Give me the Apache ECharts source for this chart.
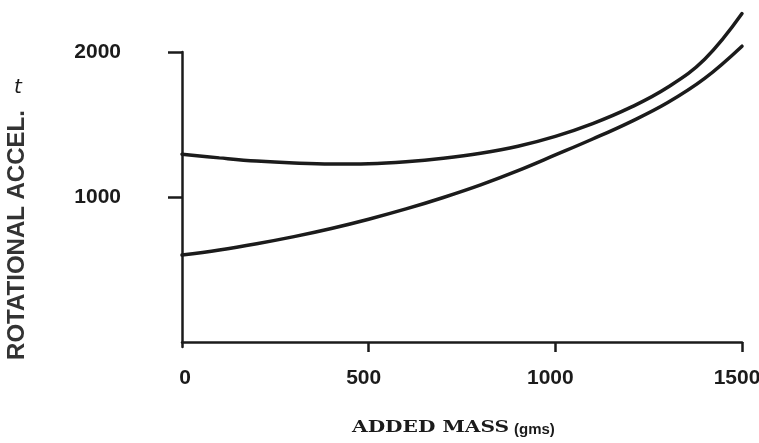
<!DOCTYPE html>
<html>
<head>
<meta charset="utf-8">
<script src="https://cdn.jsdelivr.net/npm/echarts@6/dist/echarts.min.js"></script>
<style>
 html, body { margin: 0; padding: 0; background: #fff; }
 #chart { width: 759px; height: 443px; }
</style>
</head>
<body>
<div id="chart"></div>
<script>
// added mass (gms)
const mass = [0, 100, 200, 300, 400, 500, 600, 700, 800, 900, 1000, 1100, 1200, 1300, 1400, 1500];
// upper and lower curves
const upperAccel = [1295, 1270, 1248, 1234, 1227, 1230, 1244, 1268, 1302, 1350, 1418, 1506, 1616, 1755, 1950, 2265];
const lowerAccel = [600, 635, 678, 727, 783, 847, 918, 997, 1084, 1182, 1290, 1400, 1517, 1650, 1818, 2040];

const xTicks = [500, 1000, 1500];
const xLabels = [0, 500, 1000, 1500];
const yTicks = [1000, 2000];

const ink = '#1b1b1b';
const sansBold = { fontFamily: 'Liberation Sans', fontWeight: 'bold', color: ink };

const chart = echarts.init(document.getElementById('chart'), null, { renderer: 'canvas' });

const toPairs = (ys) => mass.map((m, i) => [m, ys[i]]);

const lineSeries = (data) => ({
 type: 'line',
 smooth: 0.4,
 symbol: 'none',
 silent: true,
 clip: false,
 lineStyle: { color: ink, width: 3.5, cap: 'round' },
 data: data,
});

chart.setOption({
 backgroundColor: '#ffffff',
 animation: false,
 grid: { left: 182, right: 17, top: 52, bottom: 96, outerBoundsMode: 'none', containLabel: false },
 xAxis: {
  type: 'value',
  min: 0,
  max: 1500,
  axisLine: { show: true, lineStyle: { color: ink, width: 2.5 } },
  axisTick: { show: true, length: 10, customValues: xTicks, lineStyle: { color: ink, width: 2.5 } },
  axisLabel: {
   ...sansBold,
   fontSize: 21,
   margin: 21,
   customValues: xLabels,
   // the printed labels sit a little left of their ticks, except the 0
   formatter: (v) => (v === 0 ? '{zero|0}' : '{num|' + v + '}'),
   rich: {
    zero: { ...sansBold, fontSize: 21, padding: [0, 0, 0, 6] },
    num: { ...sansBold, fontSize: 21, padding: [0, 10, 0, 0] },
   },
  },
  splitLine: { show: false },
 },
 yAxis: {
  type: 'value',
  min: -34,
  max: 2000,
  axisLine: { show: true, lineStyle: { color: ink, width: 2.5 } },
  axisTick: { show: true, length: 14, customValues: yTicks, lineStyle: { color: ink, width: 2.5 } },
  axisLabel: { ...sansBold, fontSize: 21, margin: 61, customValues: yTicks, formatter: (v) => String(v) },
  splitLine: { show: false },
 },
 graphic: [
  {
   type: 'text',
   x: 17,
   y: 235,
   rotation: Math.PI / 2,
   style: {
    text: 'ROTATIONAL ACCEL.',
    fontFamily: 'Liberation Sans',
    fontWeight: 'bold',
    fontSize: 24,
    fill: '#333',
    align: 'center',
    verticalAlign: 'middle',
   },
  },
  {
   type: 'text',
   x: 18,
   y: 88,
   style: {
    text: 't',
    fontFamily: 'DejaVu Sans',
    fontStyle: 'italic',
    fontSize: 20,
    fill: ink,
    align: 'center',
    verticalAlign: 'middle',
   },
  },
  {
   type: 'text',
   x: 352,
   y: 428,
   scaleX: 1.26,
   style: {
    text: 'ADDED MASS',
    fontFamily: 'DejaVu Serif',
    fontWeight: 'bold',
    fontSize: 16,
    fill: ink,
    align: 'left',
    verticalAlign: 'middle',
   },
  },
  {
   type: 'text',
   x: 514,
   y: 430,
   style: {
    text: '(gms)',
    fontFamily: 'Liberation Sans',
    fontWeight: 'bold',
    fontSize: 15,
    fill: ink,
    align: 'left',
    verticalAlign: 'middle',
   },
  },
 ],
 series: [lineSeries(toPairs(upperAccel)), lineSeries(toPairs(lowerAccel))],
});
</script>
</body>
</html>
